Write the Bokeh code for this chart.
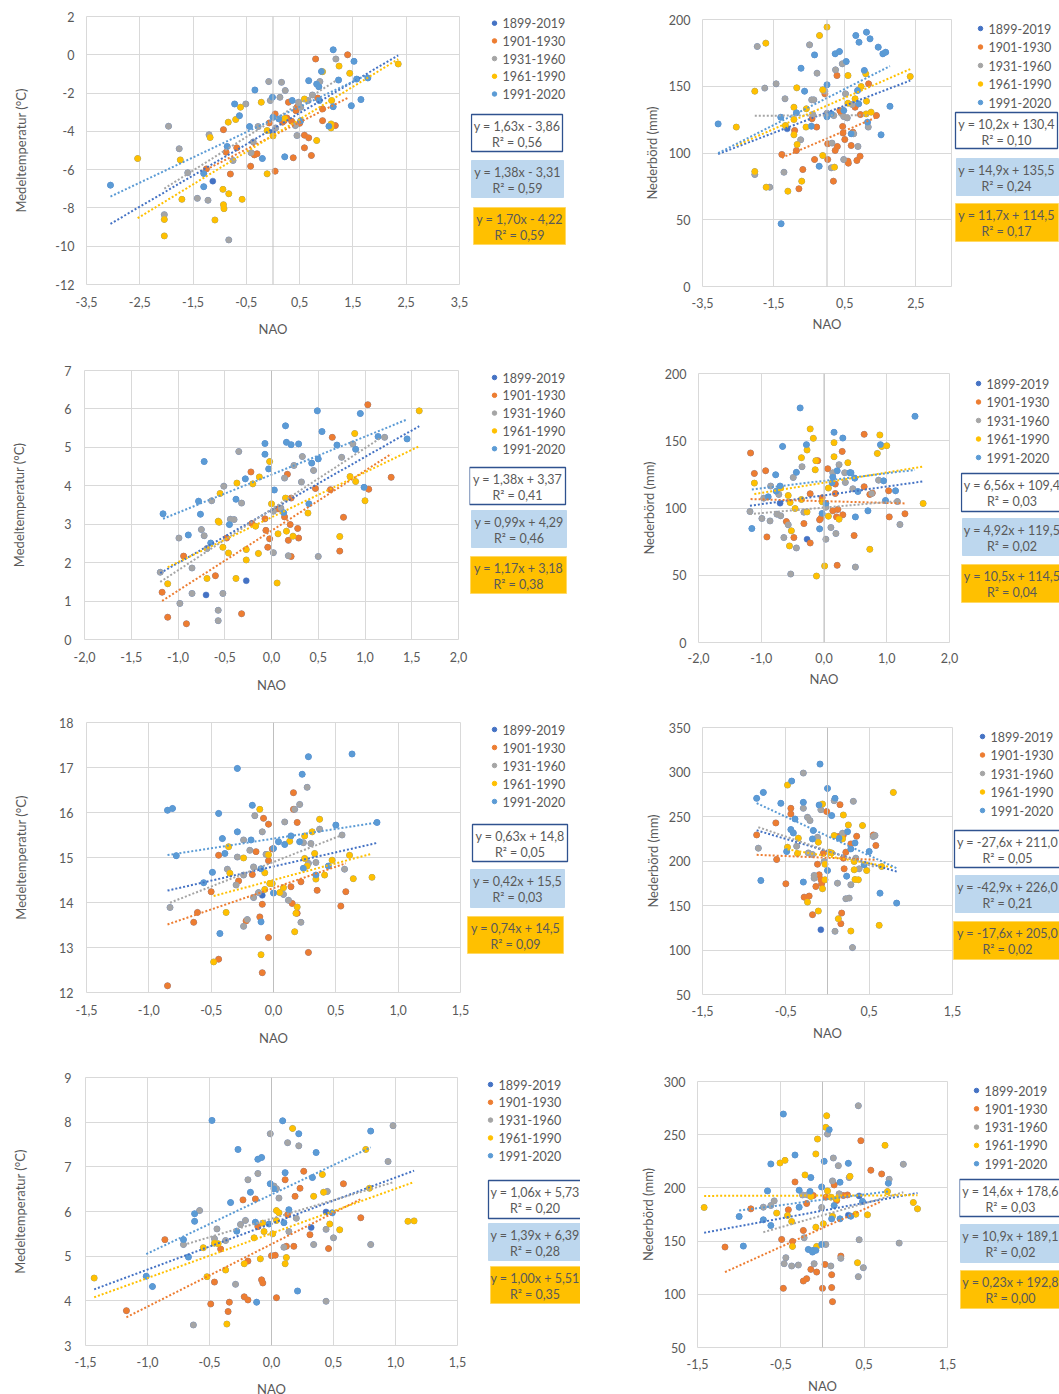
import numpy as np
from bokeh.plotting import figure
from bokeh.models import Range1d, FixedTicker, Span, CustomJSTickFormatter
from bokeh.layouts import column, row
from bokeh.embed import file_html
from bokeh.resources import INLINE
from bokeh.core.properties import value

SERIES = ["1899-2019", "1901-1930", "1931-1960", "1961-1990", "1991-2020"]
COLORS = ["#4472C4", "#ED7D31", "#A5A5A5", "#FFC000", "#5B9BD5"]

# ---------------- Panel 1: temperature (top left) ----------------
P1_1901_X = [-1.25, -0.93, -0.88, -0.80, -0.68, -0.42, -0.35, -0.30, -0.07, 0.04, 0.04, 0.18, 0.29, 0.35, 0.38, 0.43, 0.45, 0.50, 0.59, 0.59, 0.67, 0.72, 0.80, 0.84, 0.93, 0.93, 1.17, 1.40, 0.21, 0.26]
P1_1901_Y = [-5.96, -3.91, -5.09, -6.23, -4.86, -5.82, -5.23, -5.17, -3.56, -3.09, -6.08, -3.52, -2.48, -3.47, -5.38, -2.92, -2.74, -3.58, -4.20, -4.86, -4.34, -5.26, -0.22, -2.26, -3.44, -2.83, -3.70, 0.00, -3.44, -3.30]
P1_1931_X = [-2.04, -1.76, -1.96, -1.60, -1.42, -1.22, -1.20, -0.83, -0.75, -0.51, -0.41, -0.37, -0.28, -0.08, -0.05, 0.05, 0.13, 0.16, 0.23, 0.42, 0.45, 0.48, 0.52, 0.66, 0.74, 0.88, 1.18]
P1_1931_Y = [-8.35, -4.91, -3.73, -6.16, -7.50, -7.60, -4.18, -9.67, -5.52, -2.57, -5.12, -4.55, -3.75, -1.40, -2.39, -3.82, -2.22, -1.44, -1.87, -3.70, -4.22, -2.48, -2.74, -2.39, -2.10, -1.40, -0.22]
P1_1961_X = [-2.54, -2.04, -2.04, -1.74, -1.71, -1.18, -0.94, -0.93, -0.92, -1.09, -0.84, -0.83, -0.70, -0.61, -0.58, -0.22, -0.11, -0.11, 0.00, 0.22, 0.59, 0.82, 0.93, 1.10, 1.09, 1.09, 1.24, 1.44, 2.35]
P1_1961_Y = [-5.42, -8.60, -9.46, -5.49, -7.55, -4.32, -7.03, -7.83, -8.04, -8.63, -3.52, -7.26, -3.38, -2.74, -7.55, -2.48, -6.22, -3.96, -4.24, -3.33, -2.31, -4.48, -0.88, -2.39, -3.61, -3.82, -0.59, -0.97, -0.48]
P1_1991_X = [-3.05, -1.30, -1.30, -0.86, -0.72, -0.63, -0.44, -0.34, -0.20, -0.01, 0.00, 0.11, 0.22, 0.36, 0.52, 0.67, 0.82, 0.86, 0.87, 0.91, 1.05, 1.13, 1.13, 1.23, 1.47, 1.52, 1.57, 1.65, 1.78]
P1_1991_Y = [-6.81, -6.20, -6.89, -4.79, -2.57, -3.18, -3.75, -1.84, -5.42, -2.22, -3.26, -3.35, -5.33, -2.39, -3.44, -1.35, -1.53, -1.67, -2.39, -0.87, -3.73, 0.26, -2.71, -1.32, -2.66, -0.34, -1.27, -2.34, -1.21]
P1_EXTRA_X = [-1.13, -0.01]
P1_EXTRA_Y = [-6.60, -4.05]
P1_SLOPE = [1.63, 1.41, 1.75, 1.70, 1.32]
P1_INTERCEPT = [-3.86, -4.23, -3.42, -4.22, -3.38]
P1_EQ = ["y = 1,63x - 3,86", "y = 1,38x - 3,31", "y = 1,70x - 4,22"]
P1_R2 = ["R² = 0,56", "R² = 0,59", "R² = 0,59"]

# ---------------- Panel 2: precipitation (top right) ----------------
P2_1901_X = [-1.27, -0.91, -0.86, -0.79, -0.68, -0.42, -0.35, -0.29, -0.06, 0.02, 0.02, 0.18, 0.23, 0.28, 0.36, 0.40, 0.44, 0.45, 0.50, 0.59, 0.60, 0.68, 0.79, 0.84, 0.93, 1.17, 1.39, 0.94, 0.73, 0.29]
P2_1901_Y = [98.9, 116.9, 101.9, 73.2, 87.6, 125.6, 95.1, 119.4, 144.3, 106.9, 95.1, 78.9, 101.9, 158.0, 131.8, 130.1, 119.9, 114.9, 110.1, 93.9, 92.4, 105.6, 134.3, 94.4, 97.6, 151.8, 128.1, 128.8, 115.6, 104.9]
P2_1931_X = [-2.03, -1.96, -1.75, -1.61, -1.43, -1.21, -1.18, -0.74, -0.49, -0.43, -0.37, -0.40, -0.28, -0.06, 0.14, 0.12, 0.24, 0.43, 0.47, 0.52, 0.57, 0.47, 0.75, 0.87, 1.16, 0.00, 0.19, 0.71]
P2_1931_Y = [83.9, 179.8, 148.6, 74.4, 151.8, 85.6, 140.6, 109.9, 181.0, 139.8, 139.8, 128.8, 159.8, 146.3, 107.4, 88.9, 162.3, 166.8, 127.3, 144.3, 126.3, 95.1, 114.4, 104.9, 119.4, 129.8, 128.0, 136.3]
P2_1961_X = [-2.55, -2.03, -2.03, -1.72, -1.71, -1.17, -1.10, -0.93, -0.93, -0.93, -0.85, -0.84, -0.71, -0.58, -0.59, -0.21, -0.12, -0.12, 0.00, 0.21, 0.59, 0.59, 0.79, 0.96, 1.09, 1.11, 1.10, 1.24, 2.34]
P2_1961_Y = [119.4, 146.3, 86.1, 182.3, 74.4, 120.6, 71.4, 134.3, 125.1, 113.6, 148.8, 106.4, 78.9, 133.1, 119.4, 188.0, 147.3, 98.1, 194.3, 89.4, 158.0, 137.3, 140.6, 149.8, 159.3, 138.8, 129.3, 130.6, 157.3]
P2_1991_X = [-3.06, -1.30, -0.86, -0.73, -0.63, -0.44, -0.35, -0.22, 0.00, 0.00, 0.12, 0.23, 0.35, 0.54, 0.68, 0.81, 0.86, 0.90, 0.89, 1.05, 1.11, 1.14, 1.21, 1.44, 1.52, 1.57, 1.65, 1.77, -1.29, 0.47]
P2_1991_Y = [121.8, 126.8, 130.1, 163.5, 146.3, 120.1, 173.5, 90.1, 151.1, 127.1, 129.3, 174.3, 176.0, 168.5, 114.4, 188.0, 146.8, 183.0, 136.8, 161.8, 190.5, 123.1, 185.5, 179.3, 113.6, 174.3, 175.5, 135.0, 47.0, 131.8]
P2_EXTRA_X = [-1.12]
P2_EXTRA_Y = [118.1]
P2_SLOPE = [10.2, 11.4, 0.15, 11.7, 13.5]
P2_INTERCEPT = [130.4, 110.9, 128.2, 135.5, 141.2]
P2_EQ = ["y = 10,2x + 130,4", "y = 14,9x + 135,5", "y = 11,7x + 114,5"]
P2_R2 = ["R² = 0,10", "R² = 0,24", "R² = 0,17"]

# ---------------- Panel 3: temperature (row 2 left) ----------------
P3_1901_X = [-1.17, -1.11, -0.94, -0.91, -0.60, -0.48, -0.32, -0.22, -0.21, -0.07, -0.06, -0.04, -0.02, 0.07, 0.14, 0.17, 0.18, 0.20, 0.21, 0.21, 0.28, 0.29, 0.47, 0.63, 0.65, 0.73, 0.77, 1.03, 1.04, 1.28]
P3_1901_Y = [1.23, 0.58, 2.17, 0.41, 1.66, 2.64, 0.67, 4.36, 3.02, 3.14, 2.84, 2.40, 2.62, 3.40, 3.19, 4.30, 2.58, 2.99, 3.68, 2.16, 2.89, 2.64, 3.93, 3.90, 5.26, 2.30, 3.18, 6.11, 3.91, 4.22]
P3_1931_X = [-1.19, -0.99, -0.98, -0.85, -0.85, -0.75, -0.72, -0.64, -0.57, -0.57, -0.52, -0.51, -0.44, -0.40, -0.35, -0.32, 0.02, 0.02, 0.10, 0.14, 0.18, 0.24, 0.32, 0.33, 0.45, 0.50, 0.75, 0.87, 1.21, -0.69]
P3_1931_Y = [1.75, 2.64, 0.94, 1.86, 1.20, 2.86, 2.70, 3.61, 0.76, 0.49, 1.20, 3.99, 3.13, 3.12, 4.89, 3.55, 2.26, 3.34, 3.42, 4.20, 2.18, 4.53, 4.10, 4.76, 4.40, 2.16, 4.74, 5.09, 5.26, 2.37]
P3_1961_X = [-1.11, -0.69, -0.57, -0.56, -0.55, -0.52, -0.46, -0.38, -0.37, -0.27, -0.27, -0.20, -0.17, -0.14, -0.13, -0.02, 0.00, 0.06, 0.07, 0.15, 0.16, 0.23, 0.39, 0.73, 0.84, 0.89, 0.90, 1.00, 1.58]
P3_1961_Y = [1.45, 1.59, 3.08, 3.05, 3.80, 2.40, 2.25, 1.59, 4.07, 2.07, 2.34, 4.05, 2.95, 2.24, 4.23, 4.63, 3.53, 1.47, 2.75, 3.68, 2.82, 2.69, 3.29, 2.68, 4.24, 5.36, 4.11, 3.61, 5.95]
P3_1991_X = [-1.16, -0.89, -0.78, -0.76, -0.72, -0.65, -0.45, -0.38, -0.28, -0.07, -0.07, -0.03, 0.03, 0.15, 0.16, 0.21, 0.29, 0.43, 0.49, 0.50, 0.54, 0.70, 0.90, 0.95, 0.99, 1.14, 1.45, 0.40, 0.13]
P3_1991_Y = [3.27, 2.72, 3.60, 3.26, 4.63, 2.51, 2.99, 3.65, 4.18, 5.10, 4.82, 4.44, 3.89, 5.56, 5.13, 5.07, 5.09, 4.59, 5.95, 4.70, 5.41, 5.06, 4.95, 5.88, 3.96, 5.28, 5.22, 3.53, 3.30]
P3_EXTRA_X = [-0.70, -0.27]
P3_EXTRA_Y = [1.16, 1.53]
P3_SLOPE = [1.38, 1.56, 1.59, 1.17, 0.99]
P3_INTERCEPT = [3.37, 2.83, 3.39, 3.18, 4.29]
P3_EQ = ["y = 1,38x + 3,37", "y = 0,99x + 4,29", "y = 1,17x + 3,18"]
P3_R2 = ["R² = 0,41", "R² = 0,46", "R² = 0,38"]

# ---------------- Panel 4: precipitation (row 2 right) ----------------
P4_1901_X = [-1.17, -1.11, -0.93, -0.91, -0.60, -0.48, -0.32, -0.22, -0.22, -0.10, -0.07, -0.05, -0.03, 0.06, 0.14, 0.18, 0.18, 0.20, 0.21, 0.22, 0.29, 0.30, 0.48, 0.64, 0.64, 0.73, 0.77, 1.03, 1.04, 1.29]
P4_1901_Y = [140.9, 125.7, 127.7, 78.5, 89.9, 78.0, 88.4, 110.6, 74.0, 135.2, 91.2, 92.4, 107.6, 129.2, 97.9, 117.8, 110.8, 93.4, 57.4, 98.9, 142.1, 94.9, 79.5, 154.8, 115.8, 110.1, 111.1, 112.8, 93.4, 95.7]
P4_1931_X = [-1.18, -0.99, -0.96, -0.86, -0.85, -0.75, -0.72, -0.69, -0.64, -0.57, -0.53, -0.49, -0.44, -0.35, -0.32, 0.11, 0.03, 0.03, 0.14, 0.19, 0.24, 0.33, 0.34, 0.46, 0.50, 0.76, 0.87, 1.21, 1.17]
P4_1931_Y = [97.4, 92.2, 107.3, 90.4, 116.3, 95.4, 110.1, 94.2, 78.0, 87.5, 50.9, 122.7, 70.3, 130.7, 96.9, 85.5, 76.8, 100.6, 126.2, 81.0, 132.2, 126.2, 119.0, 114.3, 56.1, 110.8, 120.7, 87.7, 104.8]
P4_1961_X = [-1.11, -0.69, -0.57, -0.54, -0.55, -0.52, -0.46, -0.36, -0.36, -0.27, -0.27, -0.22, -0.17, -0.14, -0.13, -0.12, -0.03, 0.01, 0.07, 0.07, 0.16, 0.16, 0.24, 0.38, 0.73, 0.85, 0.89, 0.92, 1.00, 1.58]
P4_1961_Y = [118.5, 114.8, 109.3, 104.1, 71.8, 83.0, 99.6, 137.4, 106.3, 143.1, 97.1, 158.8, 151.8, 128.4, 135.2, 49.4, 104.6, 56.9, 114.8, 93.9, 148.6, 138.1, 91.7, 133.7, 69.3, 140.6, 154.3, 145.8, 146.3, 103.4]
P4_1991_X = [-1.15, -0.89, -0.77, -0.76, -0.70, -0.66, -0.44, -0.38, -0.28, -0.07, -0.03, 0.03, 0.13, 0.14, 0.16, 0.21, 0.30, 0.41, 0.43, 0.49, 0.50, 0.54, 0.70, 0.90, 0.95, 0.98, 1.14, 1.45]
P4_1991_Y = [84.7, 108.3, 124.7, 112.5, 116.3, 145.8, 126.5, 174.4, 147.1, 84.5, 95.9, 103.4, 118.8, 123.0, 156.3, 127.7, 152.0, 126.2, 126.2, 122.2, 93.4, 112.3, 97.9, 147.1, 120.2, 105.6, 112.8, 168.2]
P4_EXTRA_X = [-0.70, -0.27]
P4_EXTRA_Y = [103.6, 76.8]
P4_SLOPE = [6.56, -1.3, 4.1, 7.6, 5.6]
P4_INTERCEPT = [109.4, 105.1, 100.3, 118.8, 120.2]
P4_EQ = ["y = 6,56x + 109,4", "y = 4,92x + 119,5", "y = 10,5x + 114,5"]
P4_R2 = ["R² = 0,03", "R² = 0,02", "R² = 0,04"]

# ---------------- Panel 5: temperature (row 3 left) ----------------
P5_1901_X = [-0.85, -0.64, -0.61, -0.50, -0.44, -0.44, -0.28, -0.22, -0.17, -0.14, -0.11, -0.09, -0.09, -0.08, -0.04, -0.04, -0.04, -0.01, 0.14, 0.15, 0.16, 0.16, 0.19, 0.19, 0.22, 0.28, 0.35, 0.54, 0.58]
P5_1901_Y = [12.15, 13.56, 13.78, 14.24, 15.05, 12.74, 14.48, 13.59, 14.62, 15.13, 13.68, 12.44, 13.96, 15.87, 15.74, 13.22, 14.93, 15.19, 14.35, 13.98, 16.44, 16.07, 13.76, 15.78, 14.46, 12.89, 14.27, 13.92, 14.24]
P5_1931_X = [-0.83, -0.37, -0.30, -0.29, -0.24, -0.24, -0.21, -0.24, -0.19, -0.16, -0.16, -0.15, -0.12, -0.09, -0.06, 0.08, 0.09, 0.12, 0.17, 0.21, 0.22, 0.24, 0.27, 0.28, 0.30, 0.34, 0.37, 0.55, 0.57]
P5_1931_Y = [13.89, 14.74, 14.39, 15.01, 13.47, 15.39, 13.62, 14.61, 15.16, 14.11, 14.79, 15.93, 14.22, 15.57, 15.07, 14.18, 15.79, 14.05, 16.07, 16.18, 13.56, 15.33, 16.56, 14.87, 15.31, 14.89, 15.63, 15.50, 14.74]
P5_1961_X = [-0.48, -0.38, -0.36, -0.35, -0.24, -0.11, -0.10, -0.07, -0.07, -0.04, -0.03, -0.01, 0.05, 0.08, 0.13, 0.17, 0.19, 0.18, 0.25, 0.25, 0.27, 0.31, 0.33, 0.34, 0.37, 0.41, 0.47, 0.61, 0.64, 0.79]
P5_1961_Y = [12.68, 13.78, 15.24, 14.65, 14.99, 16.07, 12.84, 14.29, 14.66, 15.06, 14.42, 14.42, 14.22, 14.33, 15.36, 13.35, 13.90, 13.76, 15.48, 14.98, 14.81, 15.57, 15.09, 14.52, 15.85, 14.61, 14.94, 15.05, 14.53, 14.56]
P5_1991_X = [-0.85, -0.81, -0.78, -0.49, -0.56, -0.44, -0.43, -0.41, -0.39, -0.29, -0.29, -0.18, -0.17, -0.10, -0.10, 0.00, 0.00, 0.04, 0.09, 0.14, 0.21, 0.23, 0.24, 0.28, 0.34, 0.44, 0.50, 0.63, 0.83]
P5_1991_Y = [16.05, 16.09, 15.04, 14.67, 14.44, 15.98, 13.31, 15.42, 15.09, 16.98, 15.57, 15.39, 16.16, 13.57, 14.75, 15.20, 14.21, 15.35, 15.29, 15.48, 15.35, 16.85, 14.76, 17.24, 14.61, 14.81, 15.72, 17.30, 15.78]
P5_EXTRA_X = [-0.09]
P5_EXTRA_Y = [14.16]
P5_SLOPE = [0.63, 0.95, 1.09, 0.74, 0.43]
P5_INTERCEPT = [14.80, 14.32, 14.90, 14.50, 15.42]
P5_EQ = ["y = 0,63x + 14,8", "y = 0,42x + 15,5", "y = 0,74x + 14,5"]
P5_R2 = ["R² = 0,05", "R² = 0,03", "R² = 0,09"]

# ---------------- Panel 6: precipitation (row 3 right) ----------------
P6_1901_X = [-0.85, -0.62, -0.61, -0.50, -0.44, -0.44, -0.28, -0.22, -0.18, -0.14, -0.12, -0.10, -0.08, -0.07, -0.05, -0.01, 0.13, 0.15, 0.17, 0.16, 0.19, 0.20, 0.22, 0.28, 0.35, 0.55, 0.58, 0.19]
P6_1901_Y = [229.3, 242.8, 201.7, 174.4, 259.2, 252.8, 159.4, 160.6, 139.7, 171.4, 196.4, 184.5, 179.2, 174.4, 208.8, 255.5, 227.4, 263.3, 141.5, 129.6, 229.3, 191.2, 209.9, 219.2, 227.8, 229.3, 217.4, 203.2]
P6_1931_X = [-0.83, -0.37, -0.29, -0.29, -0.24, -0.21, -0.23, -0.18, -0.16, -0.16, -0.12, -0.08, -0.04, 0.08, 0.09, 0.12, 0.18, 0.22, 0.26, 0.28, 0.30, 0.31, 0.34, 0.38, 0.55, 0.57]
P6_1931_Y = [214.4, 216.6, 298.8, 259.2, 249.1, 245.4, 209.1, 207.3, 183.7, 180.7, 226.7, 257.7, 199.4, 267.8, 121.0, 175.1, 231.2, 157.6, 158.3, 173.3, 102.7, 267.0, 203.2, 191.2, 227.4, 228.6]
P6_1961_X = [-0.48, -0.48, -0.35, -0.36, -0.24, -0.11, -0.11, -0.06, -0.06, -0.03, -0.03, 0.02, 0.05, 0.08, 0.13, 0.18, 0.19, 0.25, 0.28, 0.32, 0.32, 0.33, 0.37, 0.42, 0.47, 0.62, 0.65, 0.79]
P6_1961_Y = [285.3, 215.5, 225.6, 208.4, 153.8, 143.8, 221.1, 264.0, 168.8, 178.9, 196.4, 209.9, 209.1, 228.6, 135.2, 224.8, 251.7, 240.5, 121.3, 199.4, 190.1, 179.2, 178.9, 239.8, 189.3, 127.7, 193.8, 277.1]
P6_1991_X = [-0.85, -0.77, -0.80, -0.56, -0.49, -0.43, -0.44, -0.41, -0.39, -0.29, -0.29, -0.18, -0.17, -0.10, -0.09, 0.00, 0.00, 0.05, 0.09, 0.14, 0.23, 0.24, 0.28, 0.33, 0.44, 0.50, 0.63, 0.83]
P6_1991_Y = [270.4, 277.1, 178.1, 264.8, 210.6, 289.8, 235.3, 231.5, 247.2, 265.9, 176.3, 224.8, 234.2, 262.9, 308.9, 281.6, 189.3, 251.0, 270.4, 225.6, 183.0, 233.0, 213.6, 220.3, 195.7, 210.6, 163.9, 152.7]
P6_EXTRA_X = [-0.08]
P6_EXTRA_Y = [122.8]
P6_SLOPE = [-27.6, -3.9, -32.0, -16.0, -43.5]
P6_INTERCEPT = [211.0, 203.6, 211.4, 205.4, 228.0]
P6_EQ = ["y = -27,6x + 211,0", "y = -42,9x + 226,0", "y = -17,6x + 205,0"]
P6_R2 = ["R² = 0,05", "R² = 0,21", "R² = 0,02"]

# ---------------- Panel 7: temperature (row 4 left) ----------------
P7_1901_X = [-1.17, -0.86, -0.49, -0.46, -0.41, -0.35, -0.34, -0.23, -0.22, -0.19, -0.19, -0.13, -0.11, -0.08, -0.07, 0.00, 0.03, 0.04, 0.11, 0.12, 0.13, 0.18, 0.19, 0.23, 0.26, 0.31, 0.46, 0.58, 0.72]
P7_1901_Y = [3.78, 5.37, 3.93, 4.42, 5.16, 3.76, 3.97, 6.26, 4.09, 4.02, 4.89, 6.28, 5.66, 4.47, 4.40, 5.01, 5.02, 4.07, 6.71, 5.22, 5.93, 5.22, 6.34, 6.52, 6.90, 5.48, 5.17, 6.62, 5.86]
P7_1931_X = [-0.71, -0.63, -0.58, -0.46, -0.44, -0.37, -0.29, -0.25, -0.21, -0.19, -0.11, -0.01, 0.02, 0.04, 0.06, 0.10, 0.13, 0.14, 0.22, 0.20, 0.34, 0.44, 0.44, 0.45, 0.50, 0.80, 0.94, 0.98]
P7_1931_Y = [5.26, 3.46, 6.02, 5.39, 5.61, 5.35, 4.37, 5.71, 5.80, 6.71, 6.85, 7.74, 6.57, 6.51, 6.30, 5.20, 7.54, 5.55, 7.47, 5.85, 5.26, 3.99, 5.60, 6.45, 5.41, 5.26, 7.12, 7.92]
P7_1961_X = [-1.43, -0.55, -0.52, -0.46, -0.43, -0.37, -0.36, -0.22, -0.14, -0.09, -0.07, -0.06, 0.01, 0.04, 0.04, 0.06, 0.11, 0.12, 0.17, 0.34, 0.41, 0.42, 0.47, 0.55, 0.76, 0.79, 1.10, 1.15]
P7_1961_Y = [4.51, 5.19, 4.54, 5.29, 5.28, 4.69, 3.48, 4.83, 5.41, 4.94, 5.74, 5.55, 5.50, 5.80, 6.02, 5.97, 4.83, 4.97, 7.86, 6.34, 6.83, 6.43, 5.72, 5.59, 7.39, 6.52, 5.78, 5.79]
P7_1991_X = [-1.01, -0.96, -0.71, -0.67, -0.62, -0.62, -0.48, -0.33, -0.28, -0.27, -0.17, -0.13, -0.12, -0.11, -0.08, -0.02, -0.01, 0.02, 0.09, 0.10, 0.11, 0.14, 0.21, 0.22, 0.33, 0.36, 0.49, 0.80]
P7_1991_Y = [4.55, 4.32, 5.37, 4.98, 5.95, 5.78, 8.04, 6.20, 5.56, 7.39, 6.43, 5.76, 3.97, 7.17, 7.21, 5.72, 6.62, 6.51, 8.03, 5.75, 6.87, 6.04, 4.22, 7.74, 6.76, 7.32, 5.97, 7.80]
P7_EXTRA_X = [0.32, 0.44]
P7_EXTRA_Y = [5.64, 5.99]
P7_SLOPE = [1.03, 1.40, 0.83, 1.00, 1.32]
P7_INTERCEPT = [5.73, 5.27, 5.84, 5.51, 6.38]
P7_EQ = ["y = 1,06x + 5,73", "y = 1,39x + 6,39", "y = 1,00x + 5,51"]
P7_R2 = ["R² = 0,20", "R² = 0,28", "R² = 0,35"]

# ---------------- Panel 8: precipitation (row 4 right) ----------------
P8_1901_X = [-1.17, -0.86, -0.49, -0.47, -0.41, -0.36, -0.33, -0.23, -0.23, -0.19, -0.19, -0.14, -0.11, -0.07, 0.00, 0.03, 0.04, 0.11, 0.11, 0.12, 0.14, 0.17, 0.22, 0.25, 0.30, 0.46, 0.58, 0.71]
P8_1901_Y = [144.4, 180.3, 151.6, 105.6, 179.4, 149.7, 205.6, 160.0, 112.5, 114.7, 185.3, 123.4, 192.8, 120.9, 105.6, 128.1, 191.3, 118.4, 106.3, 93.1, 202.8, 188.1, 135.9, 192.8, 193.4, 244.4, 216.6, 213.1]
P8_1931_X = [-0.71, -0.62, -0.58, -0.46, -0.44, -0.37, -0.29, -0.24, -0.22, -0.18, -0.10, -0.01, 0.04, 0.06, 0.10, 0.12, 0.13, 0.19, 0.20, 0.22, 0.32, 0.43, 0.44, 0.43, 0.49, 0.80, 0.92, 0.97]
P8_1931_Y = [181.9, 183.4, 187.8, 128.8, 134.4, 126.6, 127.5, 193.4, 153.1, 193.4, 128.8, 181.6, 146.9, 250.6, 126.6, 206.6, 228.1, 220.9, 194.4, 133.8, 209.7, 277.2, 151.3, 116.6, 125.0, 208.1, 148.1, 222.2]
P8_1961_X = [-1.42, -0.55, -0.51, -0.45, -0.42, -0.37, -0.36, -0.21, -0.14, -0.08, -0.08, -0.07, -0.06, 0.01, 0.04, 0.05, 0.06, 0.10, 0.12, 0.17, 0.33, 0.40, 0.42, 0.54, 0.75, 0.78, 1.09, 1.14]
P8_1961_Y = [181.6, 176.3, 223.4, 225.9, 174.1, 168.4, 145.0, 212.2, 191.9, 231.9, 163.1, 145.0, 245.9, 166.3, 256.9, 267.8, 197.2, 191.3, 173.4, 189.7, 210.9, 175.3, 129.7, 174.7, 240.0, 196.6, 186.3, 180.3]
P8_1991_X = [-1.00, -0.95, -0.71, -0.66, -0.62, -0.62, -0.47, -0.33, -0.28, -0.28, -0.17, -0.14, -0.15, -0.12, -0.11, -0.08, -0.01, -0.01, 0.02, 0.08, 0.11, 0.14, 0.21, 0.21, 0.31, 0.34, 0.48, 0.79]
P8_1991_Y = [173.1, 145.3, 170.0, 197.2, 222.5, 164.7, 269.4, 230.9, 197.8, 181.9, 142.2, 209.7, 196.6, 139.7, 141.3, 141.3, 200.9, 146.9, 225.0, 254.7, 170.9, 183.4, 205.3, 170.9, 223.1, 173.4, 187.2, 204.4]
P8_EXTRA_X = [0.31, 0.44]
P8_EXTRA_Y = [174.4, 192.5]
P8_SLOPE = [14.6, 35.4, 22.3, 0.23, 10.0]
P8_INTERCEPT = [178.6, 162.3, 174.2, 192.8, 188.8]
P8_EQ = ["y = 14,6x + 178,6", "y = 10,9x + 189,1", "y = 0,23x + 192,8"]
P8_R2 = ["R² = 0,03", "R² = 0,02", "R² = 0,00"]

TEMP_TITLE = "Medeltemperatur (°C)"
PREC_TITLE = "Nederbörd (mm)"
X_TITLE = "NAO"

# ---------------- styling ----------------
FONT = "Lato"
TEXT_GRAY = "#595959"
GRID = "#d9d9d9"
AXIS0 = "#bfbfbf"
BOX_FILL = ["#FFFFFF", "#BDD7EE", "#FFC000"]
BOX_LINE = ["#2F528F", "#BDD7EE", "#FFD966"]
BOX_LINE_W = [1.3, 1.0, 1.0]


def ticks(a, b, step):
    n = int(round((b - a) / step))
    return [round(a + i * step, 6) for i in range(n + 1)]


def make_plot(spec, data):
    col_x, row_y, H = spec["col_x"], spec["row_y"], spec["H"]
    split = spec["split"]
    W = split - col_x
    fl, fr, ft, fb = spec["frame"]
    p = figure(width=W, height=H, output_backend="svg", toolbar_location=None,
               x_range=Range1d(*spec["xr"]), y_range=Range1d(*spec["yr"]),
               min_border_left=fl - col_x, min_border_right=split - fr,
               min_border_top=ft - row_y, min_border_bottom=row_y + H - fb)
    p.background_fill_color = "white"
    p.border_fill_color = "white"
    p.outline_line_color = GRID

    xt = FixedTicker(ticks=spec["xticks"])
    yt = FixedTicker(ticks=spec["yticks"])
    p.xaxis.ticker = xt
    p.yaxis.ticker = yt
    p.xgrid.ticker = xt
    p.ygrid.ticker = yt
    p.xgrid.grid_line_color = GRID
    p.ygrid.grid_line_color = GRID
    p.xaxis.formatter = CustomJSTickFormatter(code="return tick.toFixed(1).replace('.', ',');")
    p.yaxis.formatter = CustomJSTickFormatter(code="return tick.toFixed(0);")
    for ax in (p.xaxis[0], p.yaxis[0]):
        ax.axis_line_color = None
        ax.major_tick_line_color = None
        ax.minor_tick_line_color = None
        ax.major_tick_out = 0
        ax.major_tick_in = 0
        ax.minor_tick_out = 0
        ax.minor_tick_in = 0
        ax.major_label_text_font = FONT
        ax.major_label_text_font_size = "12.5px"
        ax.major_label_text_color = TEXT_GRAY
        ax.axis_label_text_font = FONT
        ax.axis_label_text_font_size = "13px"
        ax.axis_label_text_color = TEXT_GRAY
        ax.axis_label_text_font_style = "normal"
    p.xaxis.axis_label = X_TITLE
    p.yaxis.axis_label = spec["ytitle"]
    p.xaxis.major_label_standoff = spec["xstd"][0]
    p.xaxis.axis_label_standoff = spec["xstd"][1]
    p.yaxis.major_label_standoff = spec["ystd"][0]
    p.yaxis.axis_label_standoff = spec["ystd"][1]

    p.add_layout(Span(location=0, dimension="height", line_color=AXIS0, line_width=1))

    periods = data["periods"]
    all_x = list(data["extra"][0])
    all_y = list(data["extra"][1])
    for (xs, ys) in periods:
        all_x += xs
        all_y += ys
    groups = [(all_x, all_y)] + periods
    for (xs, ys), c in zip(groups, COLORS):
        p.scatter(xs, ys, size=6, fill_color=c, line_color=c, line_width=0.5)
    for (xs, ys), c, m, k in zip(groups, COLORS, data["slope"], data["intercept"]):
        lx = np.array([min(xs), max(xs)])
        p.line(lx, m * lx + k, line_color=c, line_width=2, line_dash="2 2")
    return p


def make_side(spec, data):
    row_y, H = spec["row_y"], spec["H"]
    fl, fr, ft, fb = spec["frame"]
    ss, se = spec["side"], spec["col_x"] + spec["col_w"]
    sw = se - ss
    # same vertical borders as the plot beside it, so the frames line up;
    # the side panel works in page-pixel coordinates
    s = figure(width=sw, height=H, output_backend="svg", toolbar_location=None,
               x_range=Range1d(ss, se), y_range=Range1d(fb, ft),
               x_axis_location=None, y_axis_location=None,
               min_border_left=0, min_border_right=0,
               min_border_top=ft - row_y, min_border_bottom=row_y + H - fb)
    s.outline_line_color = None
    s.background_fill_color = None
    s.border_fill_color = None
    s.xgrid.visible = False
    s.ygrid.visible = False
    margin_left = ss - spec["split"]
    if margin_left != 0:
        s.margin = (0, 0, 0, margin_left)

    # legend
    dot_x, ly0, dy = spec["legend"]
    ly = [ly0 + i * dy for i in range(len(SERIES))]
    s.scatter([dot_x] * len(SERIES), ly, size=4.5, fill_color=COLORS, line_color=COLORS)
    s.text([dot_x + 8] * len(SERIES), ly, text=SERIES, text_font=value(FONT),
           text_font_size=value("12.5px"), text_color=TEXT_GRAY,
           text_align="left", text_baseline="middle")

    # equation boxes
    boxes = spec["boxes"]
    s.quad(left=[b[0] for b in boxes], right=[b[2] for b in boxes],
           top=[b[1] for b in boxes], bottom=[b[3] for b in boxes],
           fill_color=BOX_FILL, line_color=BOX_LINE, line_width=BOX_LINE_W)
    tcx = spec.get("tcx")
    cx = [tcx if tcx is not None else (b[0] + b[2]) / 2 for b in boxes]
    s.text(cx + cx, [b[1] + 11.7 for b in boxes] + [b[1] + 27.7 for b in boxes],
           text=list(data["eq"]) + list(data["r2"]), text_font=value(FONT),
           text_font_size=value("12.5px"), text_color=TEXT_GRAY,
           text_align="center", text_baseline="middle")
    return s


def pdata(p1901, p1931, p1961, p1991, extra, slope, intercept, eq, r2):
    return dict(periods=[p1901, p1931, p1961, p1991], extra=extra,
                slope=slope, intercept=intercept, eq=eq, r2=r2)


DATA = [
    pdata((P1_1901_X, P1_1901_Y), (P1_1931_X, P1_1931_Y), (P1_1961_X, P1_1961_Y), (P1_1991_X, P1_1991_Y),
          (P1_EXTRA_X, P1_EXTRA_Y), P1_SLOPE, P1_INTERCEPT, P1_EQ, P1_R2),
    pdata((P2_1901_X, P2_1901_Y), (P2_1931_X, P2_1931_Y), (P2_1961_X, P2_1961_Y), (P2_1991_X, P2_1991_Y),
          (P2_EXTRA_X, P2_EXTRA_Y), P2_SLOPE, P2_INTERCEPT, P2_EQ, P2_R2),
    pdata((P3_1901_X, P3_1901_Y), (P3_1931_X, P3_1931_Y), (P3_1961_X, P3_1961_Y), (P3_1991_X, P3_1991_Y),
          (P3_EXTRA_X, P3_EXTRA_Y), P3_SLOPE, P3_INTERCEPT, P3_EQ, P3_R2),
    pdata((P4_1901_X, P4_1901_Y), (P4_1931_X, P4_1931_Y), (P4_1961_X, P4_1961_Y), (P4_1991_X, P4_1991_Y),
          (P4_EXTRA_X, P4_EXTRA_Y), P4_SLOPE, P4_INTERCEPT, P4_EQ, P4_R2),
    pdata((P5_1901_X, P5_1901_Y), (P5_1931_X, P5_1931_Y), (P5_1961_X, P5_1961_Y), (P5_1991_X, P5_1991_Y),
          (P5_EXTRA_X, P5_EXTRA_Y), P5_SLOPE, P5_INTERCEPT, P5_EQ, P5_R2),
    pdata((P6_1901_X, P6_1901_Y), (P6_1931_X, P6_1931_Y), (P6_1961_X, P6_1961_Y), (P6_1991_X, P6_1991_Y),
          (P6_EXTRA_X, P6_EXTRA_Y), P6_SLOPE, P6_INTERCEPT, P6_EQ, P6_R2),
    pdata((P7_1901_X, P7_1901_Y), (P7_1931_X, P7_1931_Y), (P7_1961_X, P7_1961_Y), (P7_1991_X, P7_1991_Y),
          (P7_EXTRA_X, P7_EXTRA_Y), P7_SLOPE, P7_INTERCEPT, P7_EQ, P7_R2),
    pdata((P8_1901_X, P8_1901_Y), (P8_1931_X, P8_1931_Y), (P8_1961_X, P8_1961_Y), (P8_1991_X, P8_1991_Y),
          (P8_EXTRA_X, P8_EXTRA_Y), P8_SLOPE, P8_INTERCEPT, P8_EQ, P8_R2),
]

ROWS = [(0, 352), (352, 353), (705, 350), (1055, 345)]
LEFT = (0, 580)
RIGHT = (580, 479)

SPECS = [
    dict(col=LEFT, row=0, split=470, side=470, frame=(86, 459, 16, 284), xr=(-3.5, 3.5), xticks=ticks(-3.5, 3.5, 1),
         yr=(-12, 2), yticks=ticks(-12, 2, 2), ytitle=TEMP_TITLE, xstd=(12, 11), ystd=(12, 23),
         legend=(494, 22.7, 17.7),
         boxes=[(471, 114, 562, 151), (471, 160, 563, 197), (473, 207, 565, 244)]),
    dict(col=RIGHT, row=0, split=953, side=953, frame=(702, 951, 19, 286), xr=(-3.5, 3.5), xticks=[-3.5, -1.5, 0.5, 2.5],
         yr=(0, 200), yticks=ticks(0, 200, 50), ytitle=PREC_TITLE, xstd=(11, 5), ystd=(12, 6),
         legend=(980, 28, 18.5), tcx=1006,
         boxes=[(955, 112, 1057, 148), (956, 158, 1058, 195), (955, 203, 1058, 241)]),
    dict(col=LEFT, row=1, split=470, side=469, frame=(84, 458, 370, 639), xr=(-2, 2), xticks=ticks(-2, 2, 0.5),
         yr=(0, 7), yticks=ticks(0, 7, 1), ytitle=TEMP_TITLE, xstd=(12, 12), ystd=(13, 34),
         legend=(494, 377, 17.8),
         boxes=[(469, 467, 565, 504), (471, 510, 566, 547), (470, 556, 566, 593)]),
    dict(col=RIGHT, row=1, split=960, side=960, frame=(698, 949, 373, 642), xr=(-2, 2), xticks=ticks(-2, 2, 1),
         yr=(0, 200), yticks=ticks(0, 200, 50), ytitle=PREC_TITLE, xstd=(10, 5), ystd=(12, 5),
         legend=(978, 383, 18.5), tcx=1011.5,
         boxes=[(961, 473, 1064, 511), (962, 518, 1064, 555), (961, 564, 1064, 602)]),
    dict(col=LEFT, row=2, split=471, side=466, frame=(86, 460, 722, 992), xr=(-1.5, 1.5), xticks=ticks(-1.5, 1.5, 0.5),
         yr=(12, 18), yticks=ticks(12, 18, 1), ytitle=TEMP_TITLE, xstd=(12, 12), ystd=(13, 27),
         legend=(494, 729, 18),
         boxes=[(472, 824, 567, 861), (470, 869, 564, 907), (467, 916, 563, 953)]),
    dict(col=RIGHT, row=2, split=963, side=952, frame=(702, 952, 727, 994), xr=(-1.5, 1.5), xticks=[-1.5, -0.5, 0.5, 1.5],
         yr=(50, 350), yticks=ticks(50, 350, 50), ytitle=PREC_TITLE, xstd=(11, 6), ystd=(12, 5),
         legend=(982, 736, 18.5), tcx=1007,
         boxes=[(954, 830, 1062, 867), (955, 875, 1062, 912), (953, 921, 1062, 959)]),
    dict(col=LEFT, row=3, split=470, side=470, frame=(85, 457, 1077, 1345), xr=(-1.5, 1.5), xticks=ticks(-1.5, 1.5, 0.5),
         yr=(3, 9), yticks=ticks(3, 9, 1), ytitle=TEMP_TITLE, xstd=(11, 11), ystd=(14, 33),
         legend=(490, 1084, 17.8), tcx=534.5,
         boxes=[(488, 1180, 583, 1218), (488, 1223, 583, 1260), (490, 1266, 583, 1303)]),
    dict(col=RIGHT, row=3, split=959, side=959, frame=(697, 947, 1081, 1347), xr=(-1.5, 1.5), xticks=[-1.5, -0.5, 0.5, 1.5],
         yr=(50, 300), yticks=ticks(50, 300, 50), ytitle=PREC_TITLE, xstd=(11, 6), ystd=(12, 5),
         legend=(976, 1090, 18.3), tcx=1010,
         boxes=[(959, 1179, 1063, 1216), (960, 1224, 1063, 1262), (960, 1270, 1063, 1308)]),
]

for s in SPECS:
    s["col_x"], s["col_w"] = s["col"]
    s["row_y"], s["H"] = ROWS[s["row"]]

left_rows = []
right_rows = []
for spec, data in zip(SPECS, DATA):
    r = row(make_plot(spec, data), make_side(spec, data))
    (left_rows if spec["col"] == LEFT else right_rows).append(r)
layout = row(column(*left_rows), column(*right_rows))

open("out.html", "w").write(file_html(layout, INLINE, title="NAO"))
